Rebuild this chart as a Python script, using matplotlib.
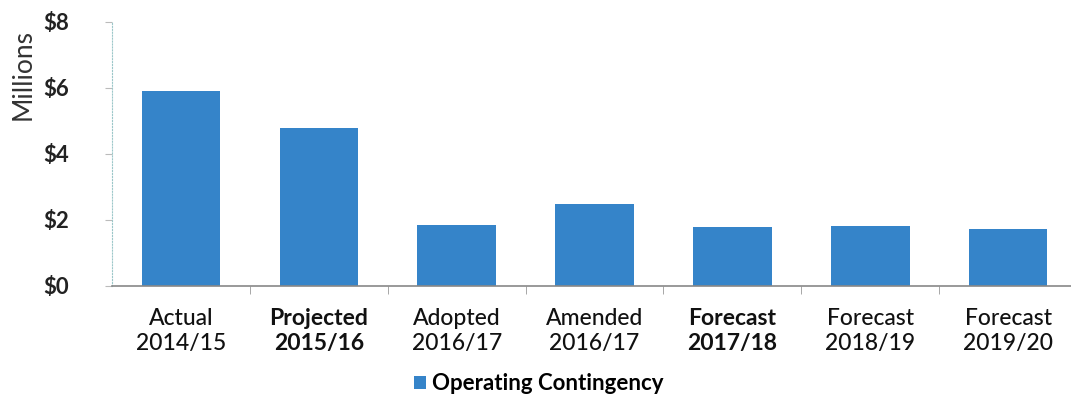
import matplotlib.pyplot as plt
from matplotlib.ticker import FixedLocator

plt.rcParams['font.family'] = ['Lato', 'DejaVu Sans']

# data (millions of dollars)
years = ["Actual\n2014/15", "Projected\n2015/16", "Adopted\n2016/17", "Amended\n2016/17",
         "Forecast\n2017/18", "Forecast\n2018/19", "Forecast\n2019/20"]
contingency = [5.90, 4.78, 1.85, 2.48, 1.80, 1.83, 1.74]
yticks = [0, 2, 4, 6, 8]
ytick_labels = ["$0", "$2", "$4", "$6", "$8"]
label_weights = ["medium", "bold", "medium", "medium", "bold", "medium", "medium"]

fig = plt.figure(figsize=(10.71, 4.0), dpi=100)
ax = fig.add_axes([0.1046, 0.285, 0.901, 0.66])

x = list(range(len(years)))
ax.bar(x, contingency, width=0.57, color="#3584C9", label="Operating Contingency")

ax.set_xlim(-0.5, len(years) - 0.5)
ax.set_ylim(0, 8)
ax.set_yticks(yticks)
ax.set_yticklabels(ytick_labels, fontsize=16, color="#222222", fontweight="bold")
ax.tick_params(axis="y", length=5, color="#bbbbbb", pad=26)

ax.set_xticks(x)
ax.set_xticklabels(years, fontsize=16.5, color="#111111", linespacing=1.2)
for lbl, w in zip(ax.get_xticklabels(), label_weights):
    lbl.set_fontweight(w)
ax.tick_params(axis="x", length=0, pad=16)
ax.xaxis.set_minor_locator(FixedLocator([i + 0.5 for i in x[:-1]]))
ax.tick_params(axis="x", which="minor", length=6, color="#999999")

ax.set_ylabel("Millions", fontsize=19, color="#333333")
ax.yaxis.set_label_coords(-0.079, 0.80)

for s in ["top", "right"]:
    ax.spines[s].set_visible(False)
ax.spines["left"].set_color("#9cc7c9")
ax.spines["left"].set_linestyle(":")
ax.spines["bottom"].set_color("#888888")
ax.spines["bottom"].set_linewidth(1.2)

fig.legend(loc="center", bbox_to_anchor=(0.503, 0.04), frameon=False,
           handlelength=0.55, handleheight=0.55, handletextpad=0.3,
           borderpad=0.1, prop={"weight": "bold", "size": 16})

fig.savefig("out.png", dpi=100)
